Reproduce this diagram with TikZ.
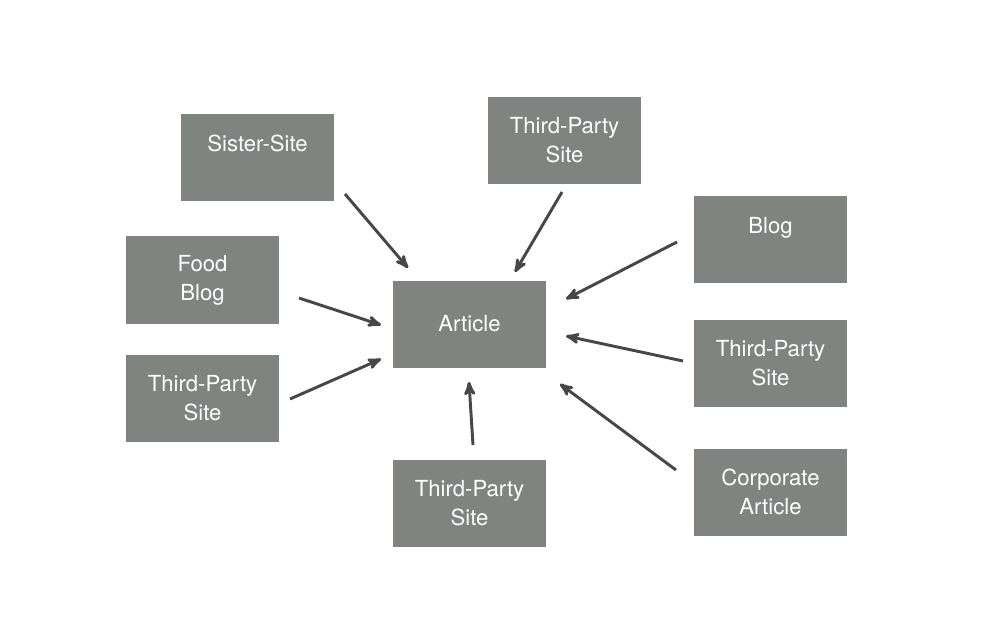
\documentclass[tikz,border=0pt]{standalone}
\usepackage{fontspec}
\setmainfont{TeX Gyre Heros}
\usepackage{xcolor}
\usetikzlibrary{arrows}
\definecolor{boxgray}{HTML}{7F8481}
\definecolor{arrowgray}{HTML}{474747}
\tikzset{
    site/.style = {rectangle, fill=boxgray, text=white, align=center, inner sep=0pt,
                   minimum width=114.75pt, minimum height=65.25pt, font=\fontsize{16.6}{21.75}\selectfont},
    link/.style = {->, draw=arrowgray, line width=2.2pt}
}
\begin{document}
\begin{tikzpicture}
            [>=stealth', x=0.75pt, y=-0.75pt]
            \useasboundingbox (0,0) rectangle (1000,631);

            % pages
            \node [site] (sister)   at (257.5,157.5) {Sister-Site\\\mbox{}};
            \node [site] (tpTop)    at (564.5,140.5) {Third-Party\\Site};
            \node [site] (blog)     at (770.5,239.5) {Blog\\\mbox{}};
            \node [site] (food)     at (202.5,280) {Food\\Blog};
            \node [site] (article)  at (469.5,324) {Article};
            \node [site] (tpRight)  at (770.5,363) {Third-Party\\Site};
            \node [site] (tpLeft)   at (202.5,398.5) {Third-Party\\Site};
            \node [site] (tpBottom) at (469.5,503) {Third-Party\\Site};
            \node [site] (corp)     at (770.5,492) {Corporate\\Article};

            % arrow ends
            \coordinate (sisterOut)   at (345,194);
            \coordinate (sisterIn)    at (408,268);
            \coordinate (tpTopOut)    at (562,192);
            \coordinate (tpTopIn)     at (515,272);
            \coordinate (blogOut)     at (677,242);
            \coordinate (blogIn)      at (566,299);
            \coordinate (foodOut)     at (299,298);
            \coordinate (foodIn)      at (381,325);
            \coordinate (tpLeftOut)   at (290,399);
            \coordinate (tpLeftIn)    at (381,359);
            \coordinate (tpRightOut)  at (683,361);
            \coordinate (tpRightIn)   at (566,336);
            \coordinate (corpOut)     at (676,470);
            \coordinate (corpIn)      at (560,384);
            \coordinate (tpBottomOut) at (473,445);
            \coordinate (tpBottomIn)  at (469,382);

            \draw [link] (sisterOut) -- (sisterIn);
            \draw [link] (tpTopOut) -- (tpTopIn);
            \draw [link] (blogOut) -- (blogIn);
            \draw [link] (foodOut) -- (foodIn);
            \draw [link] (tpLeftOut) -- (tpLeftIn);
            \draw [link] (tpRightOut) -- (tpRightIn);
            \draw [link] (corpOut) -- (corpIn);
            \draw [link] (tpBottomOut) -- (tpBottomIn);
        \end{tikzpicture}
\end{document}
